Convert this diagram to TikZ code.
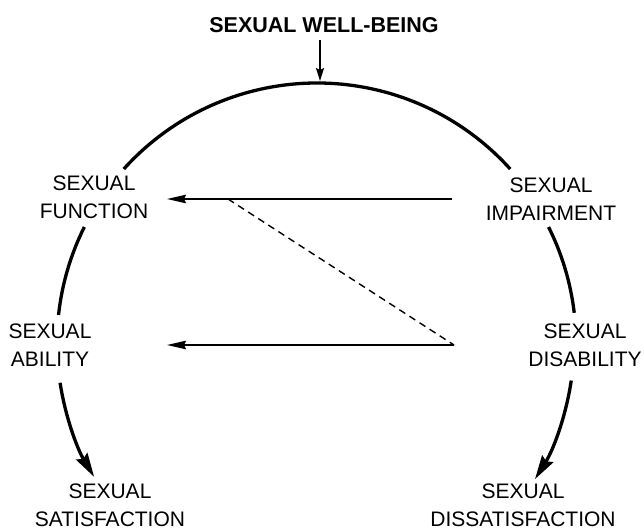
\documentclass[tikz,border=0pt]{standalone}
\usepackage{fontspec}
\setmainfont{Liberation Sans}
\usetikzlibrary{arrows.meta}
\begin{document}
\begin{tikzpicture}[x=1pt,y=1pt,
  lbl/.style={align=center,inner sep=0pt,font=\fontsize{21}{28}\selectfont},
  ttl/.style={inner sep=0pt,font=\fontsize{21.5}{26}\selectfont\bfseries},
  ring/.style={line width=3.3pt},
  ringarrow/.style={line width=3.3pt,-{Stealth[length=24pt,width=13pt,inset=3pt]}},
  harrow/.style={line width=1.8pt,-{Stealth[length=19pt,width=8.5pt,inset=2pt]}},
  darrow/.style={line width=1.8pt,-{Stealth[length=13pt,width=8pt,inset=2pt]}},
  dline/.style={line width=1.4pt,dash pattern=on 7pt off 5pt}]
\useasboundingbox (0,0) rectangle (644,531);
\coordinate (c) at (317,188);
% labels
\node[ttl] (title) at (324,506) {SEXUAL WELL-BEING};
\node[lbl] (func) at (94,334) {SEXUAL\\FUNCTION};
\node[lbl] (imp) at (551,332) {SEXUAL\\IMPAIRMENT};
\node[lbl] (abil) at (50,186) {SEXUAL\\ABILITY};
\node[lbl] (disab) at (585,186) {SEXUAL\\DISABILITY};
\node[lbl] (sat) at (110,26) {SEXUAL\\SATISFACTION};
\node[lbl] (dissat) at (523,26) {SEXUAL\\DISSATISFACTION};
% ring
\draw[ring] ([shift={(138:260pt)}]c) arc[start angle=138,end angle=42,radius=260pt];
\draw[ring] ([shift={(153.5:260pt)}]c) arc[start angle=153.5,end angle=173.8,radius=260pt];
\draw[ringarrow] ([shift={(188.8:260pt)}]c) arc[start angle=188.8,end angle=211,radius=260pt];
\draw[ring] ([shift={(26.6:259pt)}]c) arc[start angle=26.6,end angle=6.7,radius=259pt];
\draw[ringarrow] ([shift={(-8.4:257pt)}]c) arc[start angle=-8.4,end angle=-32,radius=257pt];
% top arrow
\coordinate (ts) at (320,491);
\coordinate (tt) at (320,450);
\draw[darrow] (ts) -- (tt);
% horizontal arrows
\coordinate (ia) at (452,332);
\coordinate (fa) at (167,332);
\coordinate (da) at (454,186);
\coordinate (aa) at (167,186);
\coordinate (fd) at (228,332);
\draw[harrow] (ia) -- (fa);
\draw[harrow] (da) -- (aa);
\draw[dline] (fd) -- (da);
\end{tikzpicture}
\end{document}
